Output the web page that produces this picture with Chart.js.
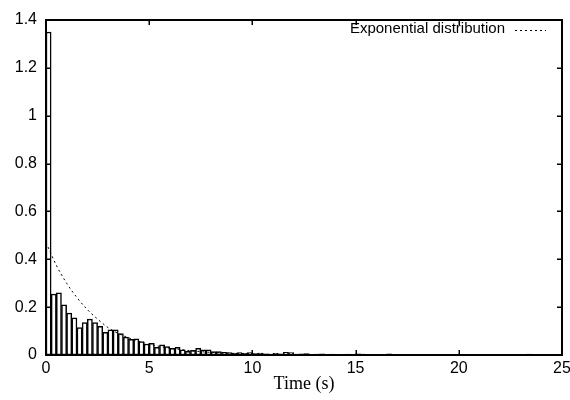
<!DOCTYPE html>
<html>
<head>
<meta charset="utf-8">
<script src="https://cdn.jsdelivr.net/npm/chart.js@4.4.1/dist/chart.umd.min.js"></script>
<style>
    html, body { margin: 0; padding: 0; background: #fff; }
</style>
</head>
<body>
<canvas id="chart" width="570" height="400"></canvas>
<script>
// histogram of times, bins of 0.25 s starting at 0
const binWidth = 0.25;
const frequency = [
    1.35, 0.255, 0.26, 0.21, 0.175, 0.155, 0.115, 0.135, 0.15, 0.135,
    0.12, 0.095, 0.105, 0.105, 0.09, 0.075, 0.065, 0.068, 0.056, 0.046,
    0.049, 0.032, 0.042, 0.035, 0.028, 0.032, 0.022, 0.015, 0.019, 0.028,
    0.022, 0.022, 0.014, 0.014, 0.011, 0.01, 0.007, 0.01, 0.007, 0.01,
    0.006, 0.008, 0.005, 0.004, 0.007, 0.005, 0.011, 0.01, 0.004, 0.005,
    0.006, 0.003, 0.004, 0.005, 0.002, 0.004, 0.003, 0.002, 0.004, 0.002,
    0.005, 0.004, 0.002, 0, 0.002, 0.003, 0.005, 0.002, 0, 0.002,
    0, 0.001, 0, 0.002, 0, 0.001, 0, 0, 0.001, 0,
    0, 0, 0.001, 0, 0, 0, 0.001, 0, 0, 0,
    0, 0, 0, 0.004, 0, 0
];

// exponential distribution curve
const expTime = [0, 0.5, 1, 1.5, 2, 2.5, 3, 3.5, 4, 5, 6, 7, 8, 10, 12, 15, 20, 25];
const expDensity = [0.47, 0.375, 0.3, 0.24, 0.19, 0.15, 0.115, 0.09, 0.072, 0.045, 0.029, 0.018, 0.011, 0.0045, 0.0018, 0.0004, 0.00005, 0];

const xTicks = [0, 5, 10, 15, 20, 25];
const yTicks = [0, 0.2, 0.4, 0.6, 0.8, 1, 1.2, 1.4];
const legendLabel = "Exponential distribution";

const sansFont = "'Liberation Sans', Arial, sans-serif";
const serifFont = "'Liberation Serif', 'Times New Roman', serif";

// frame, inward ticks on all four sides, and the key in the top right
const frameAndKey = {
    id: "frameAndKey",
    afterDraw(chart) {
        const ctx = chart.ctx;
        const area = chart.chartArea;
        const x = chart.scales.x;
        const y = chart.scales.y;
        const tick = 5;
        const left = Math.round(area.left);
        const right = Math.round(area.right);
        const top = Math.round(area.top);
        const bottom = Math.round(area.bottom);

        ctx.save();
        ctx.setLineDash([]);
        ctx.fillStyle = "#000";

        // frame as filled strips
        ctx.fillRect(left - 1, top - 1, right - left + 2, 2);
        ctx.fillRect(left - 1, bottom - 1, right - left + 2, 2);
        ctx.fillRect(left - 1, top - 1, 2, bottom - top + 2);
        ctx.fillRect(right - 1, top - 1, 2, bottom - top + 2);

        xTicks.forEach(v => {
            const px = Math.round(x.getPixelForValue(v));
            ctx.fillRect(px - 0.5, bottom - tick, 1.5, tick);
            ctx.fillRect(px - 0.5, top, 1.5, tick);
        });
        yTicks.forEach(v => {
            const py = Math.round(y.getPixelForValue(v));
            ctx.fillRect(left, py - 0.5, tick, 1.5);
            ctx.fillRect(right - tick, py - 0.5, tick, 1.5);
        });

        ctx.font = "15px " + sansFont;
        ctx.textAlign = "right";
        ctx.textBaseline = "middle";
        ctx.fillText(legendLabel, right - 57, top + 9);

        ctx.strokeStyle = "#000";
        ctx.lineWidth = 1;
        ctx.setLineDash([2, 3]);
        ctx.beginPath();
        ctx.moveTo(right - 47, top + 10.5);
        ctx.lineTo(right - 16, top + 10.5);
        ctx.stroke();
        ctx.restore();
    }
};

const histogramPoints = frequency.map((v, i) => ({ x: (i + 0.5) * binWidth, y: v }));
const curvePoints = expTime.map((t, i) => ({ x: t, y: expDensity[i] }));

new Chart(document.getElementById("chart"), {
    type: "bar",
    data: {
        datasets: [
            {
                type: "bar",
                label: "Histogram",
                data: histogramPoints,
                backgroundColor: "#fff",
                borderColor: "#000",
                borderWidth: 1.5,
                borderSkipped: false,
                barPercentage: 1,
                categoryPercentage: 1,
                grouped: false,
                order: 2
            },
            {
                type: "line",
                label: legendLabel,
                data: curvePoints,
                borderColor: "#000",
                borderWidth: 1,
                borderDash: [2, 3],
                pointRadius: 0,
                cubicInterpolationMode: "monotone",
                fill: false,
                order: 1
            }
        ]
    },
    options: {
        responsive: false,
        animation: false,
        layout: { padding: { left: 0, right: 8, top: 20, bottom: 0 } },
        plugins: {
            legend: { display: false },
            tooltip: { enabled: false }
        },
        scales: {
            x: {
                type: "linear",
                min: 0,
                max: 25,
                offset: false,
                grid: { display: false, drawTicks: false, offset: false },
                border: { display: false },
                afterBuildTicks(scale) {
                    scale.ticks = xTicks.map(v => ({ value: v }));
                },
                ticks: {
                    color: "#000",
                    font: { family: sansFont, size: 16 },
                    padding: 4,
                    maxRotation: 0,
                    callback: v => String(v)
                },
                title: {
                    display: true,
                    text: "Time (s)",
                    color: "#000",
                    font: { family: serifFont, size: 18 },
                    padding: { top: 0, bottom: 5 }
                },
                afterFit(scale) {
                    scale.height = 45;
                    scale.paddingLeft = 0;
                    scale.paddingRight = 0;
                }
            },
            y: {
                min: 0,
                max: 1.4,
                grid: { display: false, drawTicks: false },
                border: { display: false },
                afterBuildTicks(scale) {
                    scale.ticks = yTicks.map(v => ({ value: v }));
                },
                ticks: {
                    color: "#000",
                    font: { family: sansFont, size: 16 },
                    padding: 9,
                    callback: v => String(v)
                },
                afterFit(scale) {
                    scale.width = 46;
                    scale.paddingTop = 0;
                    scale.paddingBottom = 0;
                }
            }
        }
    },
    plugins: [frameAndKey]
});
</script>
</body>
</html>
